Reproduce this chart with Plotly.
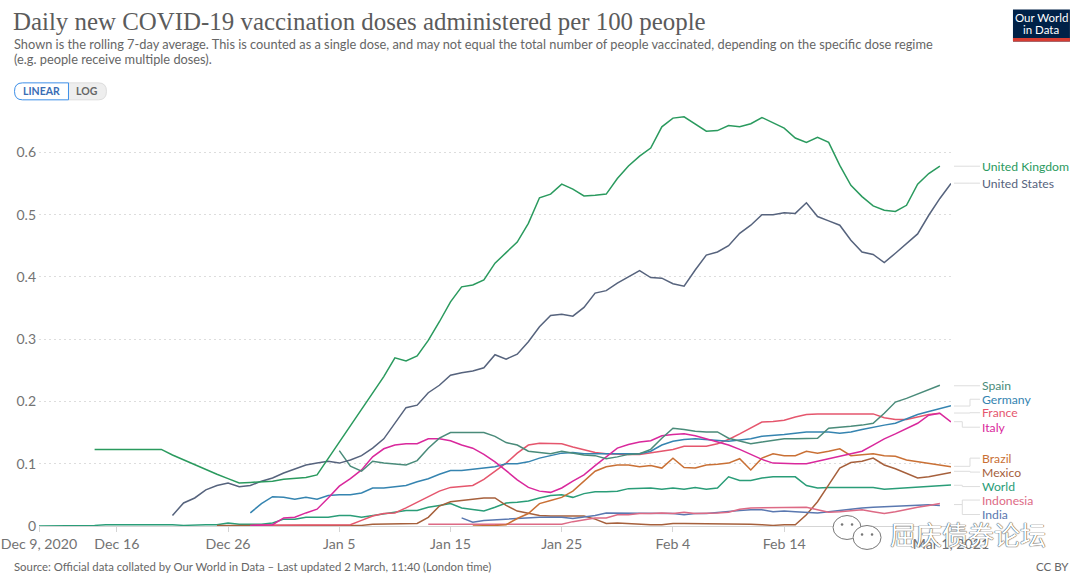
import pandas as pd
import plotly.graph_objects as go

W, H = 1080, 581
L, R, T, B = 38.5, 129, 114.7, 54.5

dates = pd.date_range("2020-12-09", "2021-03-01")

tick_dates = ["2020-12-09", "2020-12-16", "2020-12-26", "2021-01-05", "2021-01-15",
              "2021-01-25", "2021-02-04", "2021-02-14", "2021-03-01"]
tick_labels = ["Dec 9, 2020", "Dec 16", "Dec 26", "Jan 5", "Jan 15",
               "Jan 25", "Feb 4", "Feb 14", "Mar 1, 2021"]
y_ticks = [0, 0.1, 0.2, 0.3, 0.4, 0.5, 0.6]
y_labels = ["0", "0.1", "0.2", "0.3", "0.4", "0.5", "0.6"]

world = [0, 0, 0, 0, 0, .001, .002, .002, .002, .002, .002, .003, .002, .001, .002, .002, .002,
         .005, .003, .003, .003, .005, .011, .011, .014, .014, .014, .017, .017, .014, .017, .02,
         .022, .025, .025, .03, .033, .036, .029, .027, .024, .03, .037, .038, .04, .045, .049,
         .05, .046, .052, .055, .055, .056, .06, .061, .061, .059, .061, .059, .062, .059, .061,
         .079, .073, .073, .077, .079, .079, .079, .065, .061, .062, .062, .062, .061, .062, .059,
         .06, .061, .062, .063, .065, .066]
mexico = [.001, .001, .001, .001, .001, .001, .001, .001, .001, .001, .001, .001, .001, .001,
          .003, .003, .004, .004, .004, .014, .032, .039, .041, .044, .045, .045, .033, .024, .02,
          .017, .016, .016, .015, .016, .011, .004, .005, .004, .002, .002, .002, .004, .004, .004,
          .004, .004, .004, .004, .003, .002, .001, .002, .002, .018, .039, .066, .093, .102, .104,
          .109, .098, .092, .085, .077, .079, .083, .086]
india = [.013, .006, .009, .01, .011, .013, .014, .014, .014, .014, .012, .014, .017, .021, .021,
         .02, .02, .021, .02, .02, .018, .02, .02, .022, .024, .025, .026, .026, .023, .024, .023,
         .022, .021, .023, .025, .028, .029, .03, .031, .032, .033, .034, .034, .033]
indonesia = [.003, .003, .003, .003, .003, .003, .003, .003, .003, .003, .003, .003, .003, .007,
             .01, .013, .013, .018, .018, .02, .02, .021, .02, .022, .02, .02, .021, .022, .027,
             .029, .029, .029, .029, .03, .03, .026, .022, .023, .025, .026, .023, .02, .023,
             .027, .03, .033, .036]
brazil = [0, 0, .001, .002, .012, .02, .036, .041, .046, .056, .072, .088, .095, .098, .098, .095,
          .097, .093, .109, .094, .093, .098, .099, .101, .108, .09, .109, .116, .113, .113, .12,
          .117, .12, .124, .113, .115, .116, .113, .112, .106, .103, .1, .097, .095]
france = [.001, .001, .001, .001, .001, .001, .001, .001, .001, .002, .009, .016, .02, .021, .029,
          .038, .047, .056, .062, .064, .065, .075, .088, .101, .117, .13, .133, .133, .132, .127,
          .123, .118, .116, .115, .115, .115, .118, .12, .123, .128, .128, .128, .132, .139, .148,
          .157, .167, .168, .17, .175, .179, .18, .18, .181, .181, .181, .18, .174, .171, .171,
          .175, .179, .181]
germany = [.021, .036, .047, .046, .043, .046, .043, .049, .05, .05, .053, .061, .061, .063, .065,
           .071, .076, .083, .089, .089, .091, .093, .095, .1, .1, .103, .109, .113, .117, .118,
           .116, .116, .116, .115, .115, .116, .12, .13, .136, .139, .14, .139, .137, .136, .138,
           .14, .144, .145, .147, .149, .151, .151, .151, .149, .151, .155, .159, .162, .165, .172,
           .179, .184, .188, .193]
italy = [.001, .001, .002, .013, .014, .021, .027, .045, .064, .076, .09, .111, .124, .13, .132,
         .132, .14, .14, .137, .13, .125, .115, .103, .089, .074, .062, .056, .054, .061, .072,
         .082, .097, .111, .125, .131, .135, .137, .145, .147, .148, .145, .14, .136, .13, .123,
         .115, .107, .101, .1, .1, .1, .104, .107, .112, .116, .12, .13, .14, .148, .156, .165,
         .178, .181, .167]
spain = [.121, .096, .088, .104, .101, .1, .098, .105, .125, .141, .15, .15, .15, .15, .144, .134,
         .13, .12, .118, .116, .12, .117, .114, .113, .108, .111, .115, .116, .123, .141, .157,
         .155, .152, .151, .151, .141, .137, .132, .135, .137, .14, .14, .14, .141, .157, .158,
         .16, .162, .165, .181, .199, .205, .212, .219, .226]
united_states = [.017, .037, .045, .058, .065, .069, .063, .065, .072, .077, .085, .092, .098,
                 .101, .104, .101, .106, .113, .125, .14, .165, .19, .194, .214, .226, .242, .246,
                 .249, .254, .275, .268, .276, .296, .32, .338, .34, .337, .351, .374, .378, .39,
                 .4, .41, .399, .398, .389, .385, .411, .435, .44, .45, .47, .483, .5, .5, .503,
                 .502, .519, .497, .49, .483, .459, .44, .436, .423, .438, .454, .469, .499, .526,
                 .55]
united_kingdom = [.123, .123, .123, .123, .123, .123, .123, .114, .106, .098, .09, .083, .076,
                  .069, .07, .071, .072, .075, .076, .078, .082, .108, .134, .16, .187, .213, .24,
                  .27, .265, .273, .298, .328, .36, .384, .387, .395, .422, .439, .456, .486, .527,
                  .533, .549, .541, .53, .531, .533, .558, .578, .594, .607, .641, .655, .657,
                  .645, .634, .635, .643, .641, .646, .656, .648, .639, .623, .616, .624, .616,
                  .579, .547, .529, .514, .507, .505, .515, .549, .566, .578]

# name, values, first day index, colour (back to front)
series = [
    ("World", world, 0, "#2a9d78"),
    ("Mexico", mexico, 16, "#a6603c"),
    ("India", india, 38, "#5a78b0"),
    ("Indonesia", indonesia, 35, "#dd6a85"),
    ("Brazil", brazil, 39, "#c97035"),
    ("France", france, 19, "#e5566d"),
    ("Germany", germany, 19, "#3584b0"),
    ("Italy", italy, 19, "#d9289c"),
    ("Spain", spain, 27, "#4a8b7a"),
    ("United States", united_states, 12, "#56637d"),
    ("United Kingdom", united_kingdom, 5, "#2a9a5e"),
]

# label y position and connector path (pixels)
label_y = {"United Kingdom": 166, "United States": 183, "Spain": 386, "Germany": 399.5,
           "France": 413, "Italy": 427.5, "Brazil": 458.5, "Mexico": 472.5, "World": 487,
           "Indonesia": 500.5, "India": 515}
connect = {"United Kingdom": (166, 970), "United States": (183, 970), "Spain": (386, 970),
           "Germany": (406.3, 970), "France": (413.3, 970), "Italy": (422, 962.3),
           "Brazil": (466.7, 970), "Mexico": (471.7, 970), "World": (485.7, 962.3),
           "Indonesia": (505, 962.3), "India": (505, 962.3)}


def px(x):
    return (x - L) / (W - L - R)


def py(y):
    return 1 - (y - T) / (H - T - B)


fig = go.Figure()
for name, values, start, colour in series:
    fig.add_trace(go.Scatter(x=dates[start:start + len(values)], y=values, mode="lines", name=name,
                             line=dict(color=colour, width=1.5), showlegend=False))

shapes = []
annotations = []


def text(x, y, s, size=12.5, color="#666666", family="Lato", anchor="left", **kw):
    annotations.append(dict(x=px(x), y=py(y), xref="paper", yref="paper", text=s, showarrow=False,
                            xanchor=anchor, yanchor="middle", align=anchor, borderpad=0,
                            font=dict(size=size, color=color, family=family), **kw))


for name, values, start, colour in series:
    y0, xm = connect[name]
    y1 = label_y[name]
    shapes.append(dict(type="path", xref="paper", yref="paper",
                       path=f"M {px(954)} {py(y0)} L {px(xm)} {py(y0)} L {px(xm)} {py(y1)} L {px(980)} {py(y1)}",
                       line=dict(color="#dddddd", width=1)))
    text(981, y1, name, size=12.2, color=colour)

# title block
text(11.5, 21.5, "Daily new COVID-19 vaccination doses administered per 100 people", size=24.9,
     color="#5b5b5b", family="Liberation Serif")
text(12, 44, "Shown is the rolling 7-day average. This is counted as a single dose, and may not equal "
     "the total number of people vaccinated, depending on the specific dose regime", size=12.8)
text(12, 59, "(e.g. people receive multiple doses).", size=12.8)

# LINEAR / LOG toggle
shapes.append(dict(type="path", xref="paper", yref="paper", fillcolor="#eeeeee",
                   line=dict(color="#dddddd", width=1),
                   path=f"M {px(68)} {py(82.5)} L {px(98)} {py(82.5)} Q {px(106)} {py(82.5)} {px(106)} {py(91)} "
                        f"Q {px(106)} {py(99.5)} {px(98)} {py(99.5)} L {px(68)} {py(99.5)} Z"))
shapes.append(dict(type="path", xref="paper", yref="paper", fillcolor="#ffffff",
                   line=dict(color="#3d8fe8", width=1),
                   path=f"M {px(22)} {py(82.5)} L {px(68)} {py(82.5)} L {px(68)} {py(99.5)} L {px(22)} {py(99.5)} "
                        f"Q {px(14)} {py(99.5)} {px(14)} {py(91)} Q {px(14)} {py(82.5)} {px(22)} {py(82.5)} Z"))
text(41, 91, "<b>LINEAR</b>", size=10.5, color="#3a6db5", anchor="center")
text(87, 91, "<b>LOG</b>", size=10.5, color="#666666", anchor="center")

# logo
shapes.append(dict(type="rect", xref="paper", yref="paper", x0=px(1013), x1=px(1070), y0=py(9), y1=py(41),
                   fillcolor="#002147", line=dict(width=0)))
shapes.append(dict(type="rect", xref="paper", yref="paper", x0=px(1013), x1=px(1070), y0=py(37.5), y1=py(41),
                   fillcolor="#d73c32", line=dict(width=0)))
text(1041.5, 17.5, "Our World", size=11.5, color="#ffffff", anchor="center")
text(1041.5, 29.5, "in Data", size=11.5, color="#ffffff", anchor="center")

# footer
text(12, 567, "Source: Official data collated by Our World in Data – Last updated 2 March, 11:40 (London time)",
     size=11.35)
text(1070, 567, "CC BY", size=11.5, anchor="right")

# watermark
for cx, cy, r in [(847, 528, 14), (867, 538, 14)]:
    shapes.append(dict(type="circle", xref="paper", yref="paper", x0=px(cx - r), x1=px(cx + r),
                       y0=py(cy - r + 2), y1=py(cy + r - 2), fillcolor="#ffffff",
                       line=dict(color="#777777", width=1)))
    for dx in (-5, 5):
        shapes.append(dict(type="circle", xref="paper", yref="paper", x0=px(cx + dx - 1.3), x1=px(cx + dx + 1.3),
                           y0=py(cy - 4.3), y1=py(cy - 1.7), fillcolor="#777777", line=dict(width=0)))
text(889, 534, "屈庆债券论坛", size=26, color="#ffffff", family="Noto Sans CJK SC")
annotations[-1]["font"]["shadow"] = "0 0 1px #333, 0 0 1px #333"

fig.update_layout(
    width=W, height=H,
    margin=dict(l=L, r=R, t=T, b=B, pad=0, autoexpand=False),
    paper_bgcolor="#ffffff", plot_bgcolor="#ffffff",
    font=dict(family="Lato", color="#666666"),
    hovermode=False,
    shapes=shapes, annotations=annotations,
    xaxis=dict(range=[dates[0], dates[-1]], tickvals=tick_dates, ticktext=tick_labels, showgrid=False,
               automargin=False, zeroline=False, showline=True, linecolor="#d5d5d5", linewidth=1,
               ticks="outside", ticklen=5, tickcolor="#d5d5d5", tickfont=dict(size=14.2, color="#737373")),
    yaxis=dict(range=[0, 0.66], tickvals=y_ticks, ticktext=y_labels, showline=False, zeroline=False,
               automargin=False, gridcolor="#dddddd", griddash="2px,3px", gridwidth=1, ticks="",
               ticklabelstandoff=2, tickfont=dict(size=14, color="#737373")),
)

fig.write_html("out.html", config={"displayModeBar": False},
               post_script="document.body.style.margin='0';")
